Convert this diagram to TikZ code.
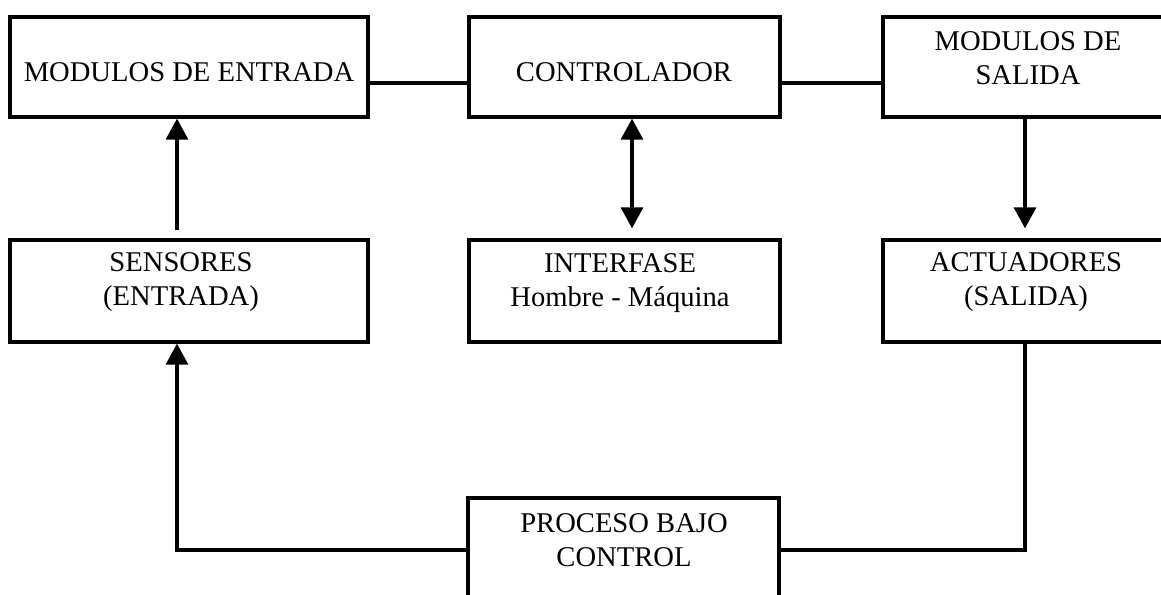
\documentclass[tikz,border=0pt]{standalone}
\usepackage{fontspec}
\setmainfont{Liberation Serif}
\usetikzlibrary{arrows.meta}
\begin{document}
\begin{tikzpicture}[x=1pt,y=-1pt,
  blk/.style={draw,line width=3.3pt,inner sep=0pt,fill=none},
  lbl/.style={font=\fontsize{28.6}{34}\selectfont,align=center,inner sep=0pt},
  conn/.style={line width=3.1pt},
  arr/.style={conn,-{Triangle[length=21pt,width=22pt]}},
  darr/.style={conn,{Triangle[length=21pt,width=22pt]}-{Triangle[length=21pt,width=22pt]}}]
\useasboundingbox (0,0) rectangle (1161,594);
\clip (0,0) rectangle (1161,594);
\fill[white] (0,0) rectangle (1161,594);
% boxes
\node[blk,minimum width=358pt,minimum height=100pt] (me) at (189,67) {};
\node[blk,minimum width=311pt,minimum height=100pt] (ct) at (624.5,67) {};
\node[blk,minimum width=292pt,minimum height=100pt] (ms) at (1029,67) {};
\node[blk,minimum width=358pt,minimum height=102pt] (se) at (189,291) {};
\node[blk,minimum width=311pt,minimum height=102pt] (in) at (624.5,291) {};
\node[blk,minimum width=292pt,minimum height=102pt] (ac) at (1029,291) {};
\node[blk,minimum width=311pt,minimum height=162pt] (pr) at (623.5,579) {};
% labels
\node[lbl] (tme) at (189,72) {MODULOS DE ENTRADA};
\node[lbl] (tct) at (624,72) {CONTROLADOR};
\node[lbl] (tms) at (1028,58) {MODULOS DE\\SALIDA};
\node[lbl] (tse) at (181,282) {SENSORES\\(ENTRADA)};
\node[lbl] (tin) at (620,283) {INTERFASE\\Hombre - Máquina};
\node[lbl] (tac) at (1026,282) {ACTUADORES\\(SALIDA)};
\node[lbl] (tpr) at (624,540) {PROCESO BAJO\\CONTROL};
% connectors
\draw[conn] ([yshift=-16pt]me.east) -- ([yshift=-16pt]ct.west);
\draw[conn] ([yshift=-16pt]ct.east) -- ([yshift=-16pt]ms.west);
\draw[arr] ([xshift=-12pt,yshift=8pt]se.north) -- ([xshift=-12pt]me.south);
\draw[darr] ([xshift=7.5pt]ct.south) -- ([xshift=7.5pt,yshift=10pt]in.north);
\draw[arr] ([xshift=-4pt]ms.south) -- ([xshift=-4pt,yshift=10pt]ac.north);
\draw[arr] ([yshift=29pt]pr.west) -| ([xshift=-12pt]se.south);
\draw[conn] ([yshift=29pt]pr.east) -| ([xshift=-4pt]ac.south);
\end{tikzpicture}
\end{document}
